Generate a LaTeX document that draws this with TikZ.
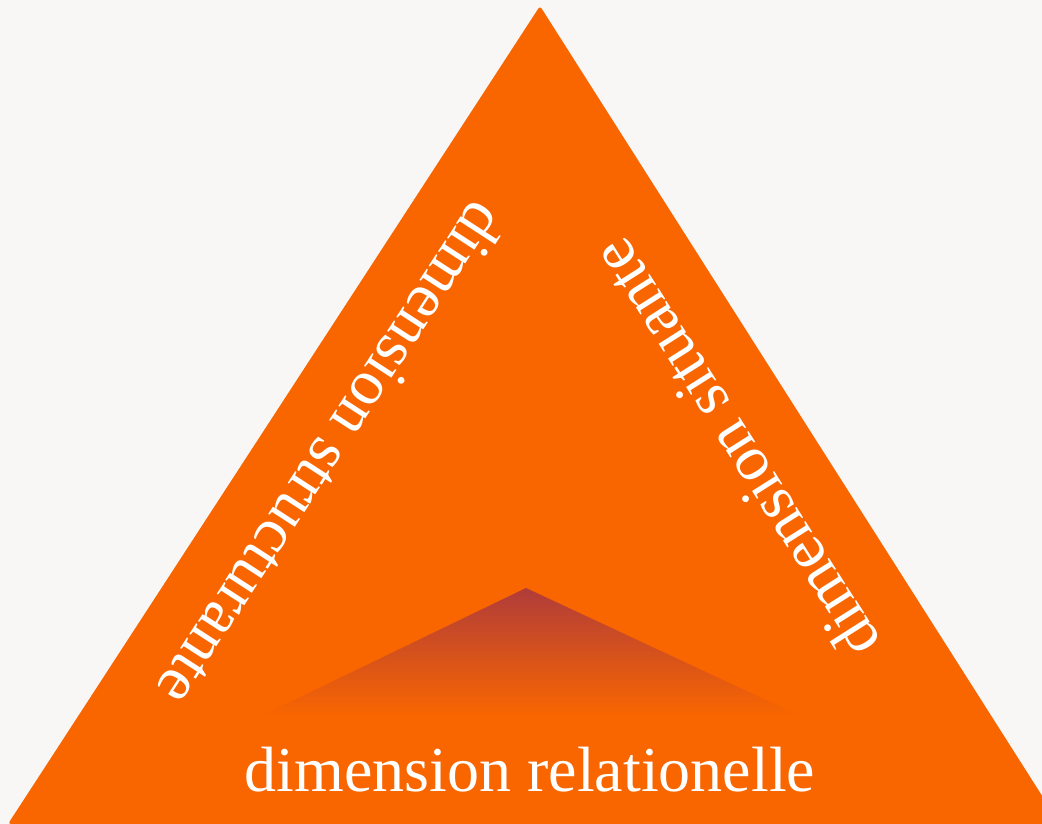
\documentclass[tikz,border=0pt]{standalone}
\usepackage{fontspec}
\setmainfont{Liberation Serif}
\usetikzlibrary{positioning}
\definecolor{paper}{RGB}{248,247,245}
\definecolor{dimorange}{RGB}{249,102,0}
\definecolor{dimshade}{RGB}{176,60,58}
\begin{document}
\begin{tikzpicture}[
  x=1pt,y=1pt,
  dimlabel/.style={text=white,inner sep=0pt,font=\fontsize{64}{70}\selectfont},
  outer/.style={fill=dimorange,rounded corners=3pt},
  inner/.style={top color=dimshade,bottom color=dimorange,draw=none}
]
\useasboundingbox (0,0) rectangle (1042,824);
\fill[paper] (0,0) rectangle (1042,824);
\clip (0,0) rectangle (1042,824);
\coordinate (apex) at (540,818);
\coordinate (left) at (8,0);
\coordinate (right) at (1060,0);
\fill[outer] (left) -- (apex) -- (right) -- cycle;
\shade[inner] (261,108) -- (526,236) -- (800,108) -- cycle;
\node[dimlabel,anchor=base] (relation) at (530,32) {dimension relationelle};
\node[dimlabel,rotate=237] (structure) at (333,369) {dimension structurante};
\node[dimlabel,rotate=122.4] (situe) at (735,374) {dimension situante};
\end{tikzpicture}
\end{document}
